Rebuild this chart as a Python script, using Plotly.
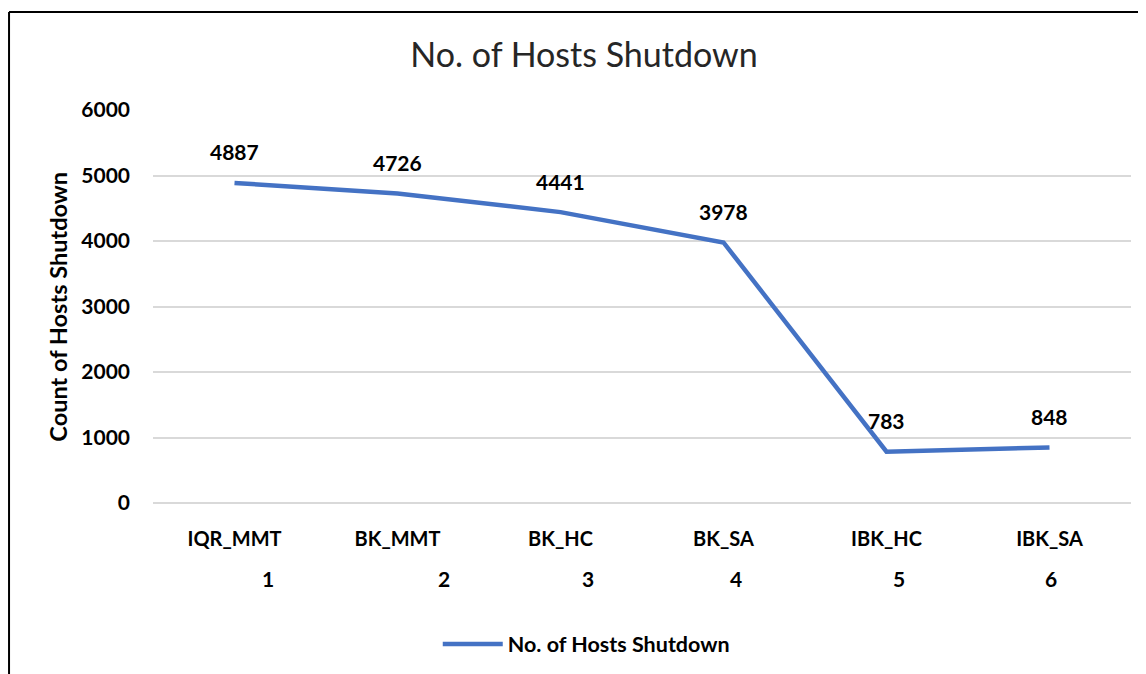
import plotly.graph_objects as go

categories = ["IQR_MMT", "BK_MMT", "BK_HC", "BK_SA", "IBK_HC", "IBK_SA"]
run_numbers = ["1", "2", "3", "4", "5", "6"]
hosts_shutdown = [4887, 4726, 4441, 3978, 783, 848]
y_ticks = [0, 1000, 2000, 3000, 4000, 5000, 6000]
series_name = "No. of Hosts Shutdown"

# horizontal nudges of the second label row (as in the source chart)
number_row_shift = [33, 46, 27, 12, 12, 1]

FONT = "Lato"
W, H = 1138, 666  # page body adds an 8px margin
idx = list(range(len(categories)))

fig = go.Figure()
fig.add_trace(go.Scatter(
    x=idx, y=hosts_shutdown, mode="lines", name=f"<b>{series_name}</b>",
    line=dict(color="#4472C4", width=4.5),
    hoverinfo="x+y",
))

annotations = []
for i, v in zip(idx, hosts_shutdown):
    annotations.append(dict(
        x=i, y=v, xref="x", yref="y", text=f"<b>{v}</b>", showarrow=False,
        yanchor="middle", yshift=31,
        font=dict(family=FONT, size=21, color="#000000"),
    ))
for i, n, s in zip(idx, run_numbers, number_row_shift):
    annotations.append(dict(
        x=i, y=-0.191, xref="x", yref="paper", text=f"<b>{n}</b>", showarrow=False,
        yanchor="middle", xshift=s,
        font=dict(family=FONT, size=21, color="#000000"),
    ))
annotations.append(dict(
    x=-0.098, y=0.5, xref="paper", yref="paper", text="<b>Count of Hosts Shutdown</b>",
    showarrow=False, textangle=-90, xanchor="center", yanchor="middle",
    font=dict(family=FONT, size=23.5, color="#000000"),
))

fig.update_layout(
    width=W, height=H,
    margin=dict(l=145, r=15, t=102, b=171, autoexpand=False),
    paper_bgcolor="white", plot_bgcolor="white",
    title=dict(text=series_name, x=576 / W, xanchor="center", xref="container",
               y=1 - 47 / H, yref="container", yanchor="middle",
               font=dict(family=FONT, size=34, color="#262626")),
    xaxis=dict(
        range=[-0.5, len(categories) - 0.5],
        tickvals=idx, ticktext=[f"<b>{c}</b>" for c in categories],
        showgrid=False, zeroline=False, showline=False, ticks="",
        ticklabelstandoff=22,
        tickfont=dict(family=FONT, size=20, color="#000000"),
        fixedrange=True, automargin=False,
    ),
    yaxis=dict(
        range=[0, 6000], tickvals=y_ticks,
        ticktext=[f"<b>{t}</b>" for t in y_ticks],
        showgrid=True, gridcolor="#d9d9d9", gridwidth=1.5,
        zeroline=True, zerolinecolor="#d9d9d9", zerolinewidth=1.5,
        showline=False, ticks="", ticklabelstandoff=22,
        tickfont=dict(family=FONT, size=21, color="#000000"),
        fixedrange=True, automargin=False,
    ),
    showlegend=True,
    legend=dict(orientation="h", x=0.443, xanchor="center", y=-0.359, yanchor="middle",
                font=dict(family=FONT, size=21.5, color="#000000"),
                bgcolor="rgba(0,0,0,0)", itemwidth=60),
    annotations=annotations,
    shapes=[
        dict(type="line", xref="paper", yref="paper", x0=-0.1472, x1=1.02, y0=1.2494, y1=1.2494,
             line=dict(color="#000000", width=2)),
        dict(type="line", xref="paper", yref="paper", x0=-0.1472, x1=-0.1472, y0=1.2494, y1=-0.44,
             line=dict(color="#000000", width=2)),
    ],
)

fig.write_html("out.html")
